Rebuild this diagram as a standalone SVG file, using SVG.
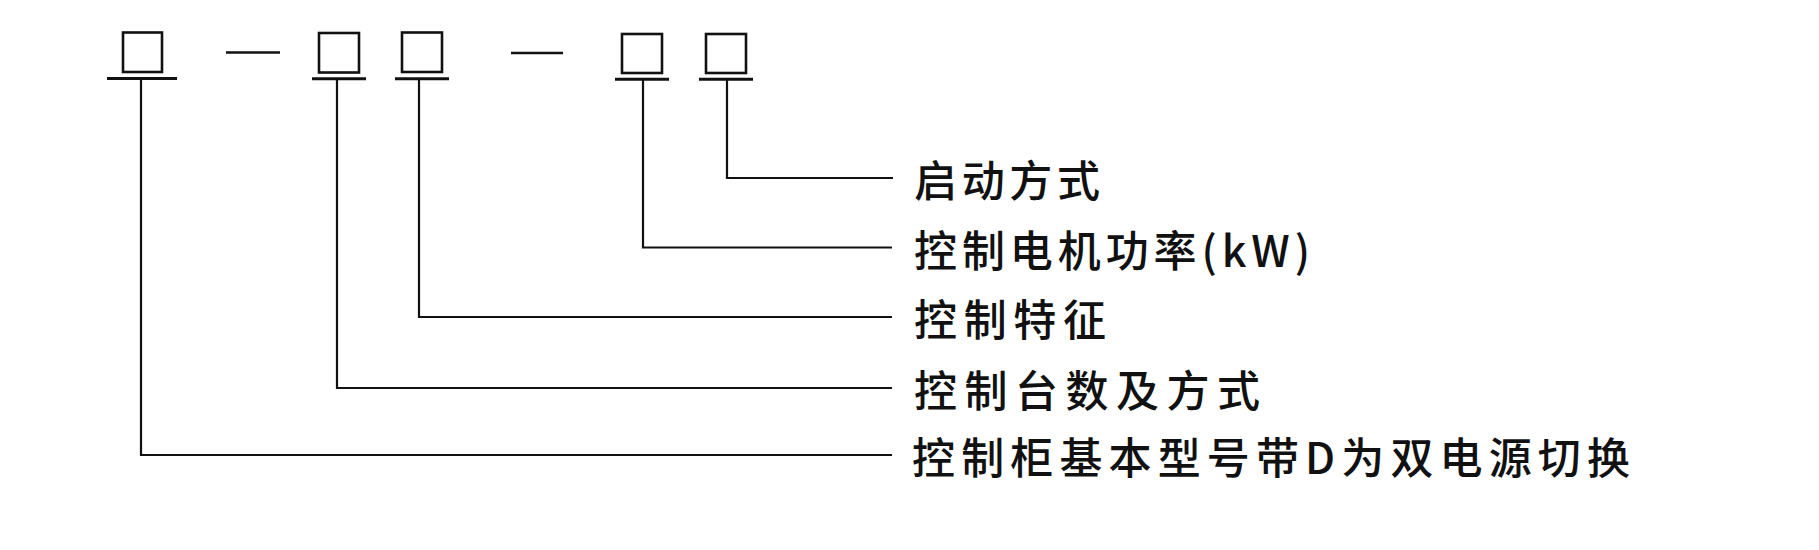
<svg xmlns="http://www.w3.org/2000/svg" width="1819" height="550" viewBox="0 0 1819 550">
<style>
.box{fill:none;stroke:#111;stroke-width:2.6}
.ul{stroke:#111;stroke-width:3;fill:none}
.dash{stroke:#111;stroke-width:2.6;fill:none}
.conn{stroke:#111;stroke-width:2.2;fill:none}
.lbl{font-family:"Noto Sans CJK SC","Noto Sans CJK JP",sans-serif;font-size:43px;font-weight:500;fill:#111}
</style>
<rect width="1819" height="550" fill="#ffffff"/>
<g id="symbols">
<g id="box1"><rect class="box" x="123" y="32.5" width="39" height="39.5"/><line class="ul" x1="107" y1="78.5" x2="177" y2="78.5"/></g>
<line id="dash1" class="dash" x1="226" y1="52.5" x2="280" y2="52.5"/>
<g id="box2"><rect class="box" x="319" y="33" width="40" height="39.5"/><line class="ul" x1="312" y1="78.7" x2="366" y2="78.7"/></g>
<g id="box3"><rect class="box" x="402" y="32.5" width="40" height="39.5"/><line class="ul" x1="395" y1="78.7" x2="449" y2="78.7"/></g>
<line id="dash2" class="dash" x1="511" y1="53" x2="563" y2="53"/>
<g id="box4"><rect class="box" x="622" y="34" width="40" height="39"/><line class="ul" x1="615" y1="79.3" x2="669" y2="79.3"/></g>
<g id="box5"><rect class="box" x="706" y="34" width="40" height="39"/><line class="ul" x1="699" y1="79.3" x2="753" y2="79.3"/></g>
</g>
<g id="connectors">
<polyline class="conn" points="727,79.3 727,178 893,178"/>
<polyline class="conn" points="643,79.3 643,247.5 892,247.5"/>
<polyline class="conn" points="419,78.7 419,317 892,317"/>
<polyline class="conn" points="337,78.7 337,388 892,388"/>
<polyline class="conn" points="141,78.5 141,455 892,455"/>
</g>
<g id="label1"><text class="lbl" x="914" y="197" textLength="186" lengthAdjust="spacing">启动方式</text></g>
<g id="label2"><text class="lbl" x="914" y="266.5" textLength="396" lengthAdjust="spacing">控制电机功率(kW)</text></g>
<g id="label3"><text class="lbl" x="914" y="336" textLength="192" lengthAdjust="spacing">控制特征</text></g>
<g id="label4"><text class="lbl" x="914" y="407" textLength="346" lengthAdjust="spacing">控制台数及方式</text></g>
<g id="label5"><text class="lbl" x="912" y="474" textLength="718" lengthAdjust="spacing">控制柜基本型号带D为双电源切换</text></g>
</svg>
